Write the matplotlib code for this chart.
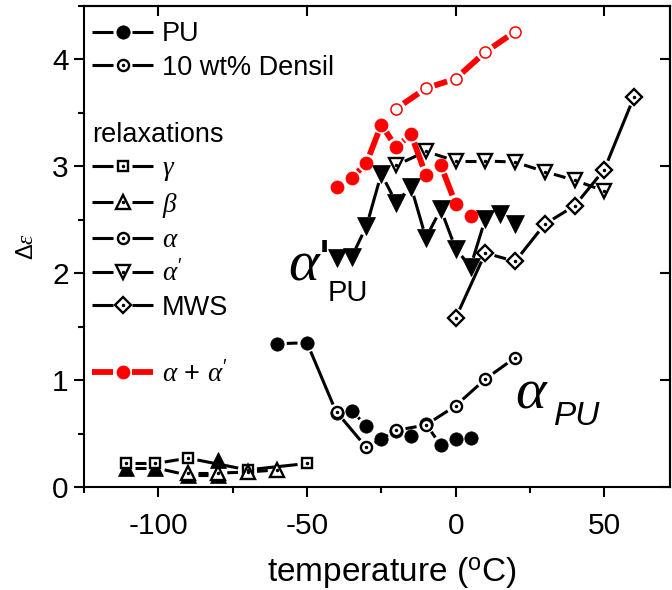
import numpy as np
import matplotlib
matplotlib.use("Agg")
import matplotlib.pyplot as plt
from matplotlib.collections import LineCollection
from matplotlib.lines import Line2D
from matplotlib.legend_handler import HandlerLine2D
from matplotlib.ticker import MultipleLocator

plt.rcParams['font.family'] = ['Liberation Sans', 'DejaVu Sans']
plt.rcParams['mathtext.fontset'] = 'custom'
plt.rcParams['mathtext.rm'] = 'Liberation Sans'
plt.rcParams['mathtext.it'] = 'Liberation Serif:italic'
plt.rcParams['mathtext.bf'] = 'Liberation Sans:bold'
plt.rcParams['axes.unicode_minus'] = False

# ---- relaxation strengths vs temperature ----
# neat PU
pu_alpha_T = [-60, -50, -40, -35, -30, -25, -20, -15, -10, -5, 0, 5]
pu_alpha_eps = [1.34, 1.35, 0.69, 0.715, 0.57, 0.45, 0.52, 0.48, 0.59, 0.39, 0.45, 0.46]
pu_alphap_T = [-40, -35, -30, -25, -20, -15, -10, -5, 0, 5, 10, 15, 20]
pu_alphap_eps = [2.14, 2.15, 2.44, 2.93, 2.66, 2.81, 2.33, 2.60, 2.23, 2.06, 2.51, 2.55, 2.46]
pu_beta_T = [-111, -101, -90, -80, -80]
pu_beta_eps = [0.18, 0.18, 0.11, 0.11, 0.25]
pu_sum_T = [-40, -35, -30, -25, -20, -15, -10, -5, 0, 5]
pu_sum_eps = [2.81, 2.89, 3.03, 3.39, 3.18, 3.30, 2.92, 3.01, 2.65, 2.54]

# PU + 10 wt% Densil
de_gamma_T = [-111, -101, -90, -70, -50]
de_gamma_eps = [0.22, 0.22, 0.27, 0.16, 0.22]
de_beta_T = [-90, -80, -70, -60]
de_beta_eps = [0.13, 0.13, 0.14, 0.16]
de_alpha_T = [-40, -30, -20, -10, 0, 10, 20]
de_alpha_eps = [0.70, 0.37, 0.53, 0.58, 0.76, 1.01, 1.21]
de_alphap_T = [-20, -10, 0, 10, 20, 30, 40, 50]
de_alphap_eps = [3.01, 3.14, 3.05, 3.05, 3.04, 2.95, 2.87, 2.77]
de_mws_T = [0, 10, 20, 30, 40, 50, 60]
de_mws_eps = [1.58, 2.19, 2.11, 2.46, 2.63, 2.97, 3.65]
de_sum_T = [-20, -10, 0, 10, 20]
de_sum_eps = [3.54, 3.73, 3.82, 4.07, 4.26]

x_ticks = [-100, -50, 0, 50]
y_ticks = [0, 1, 2, 3, 4]

RED = '#ff0000'
DPI = 100
GAP_PX = 9.5          # gap left between a connecting line and its symbols

fig = plt.figure(figsize=(6.72, 5.90), dpi=DPI)
ax = fig.add_axes([84 / 672, 1 - 487 / 590, 585.7 / 672, 481 / 590])
ax.set_xlim(-125, 72)
ax.set_ylim(0, 4.5)


def gapped_segments(x, y, gap_px):
    """Connecting segments between consecutive points, trimmed near the symbols."""
    pts = ax.transData.transform(np.column_stack([x, y]))
    inv = ax.transData.inverted()
    segs = []
    for p0, p1 in zip(pts[:-1], pts[1:]):
        d = p1 - p0
        L = np.hypot(*d)
        if L <= 2 * gap_px + 1:
            continue
        u = d / L
        segs.append(inv.transform([p0 + u * gap_px, p1 - u * gap_px]))
    return segs


def series(x, y, style, lw, color, gap=GAP_PX, dot=False, z=3):
    lc = LineCollection(gapped_segments(x, y, gap), colors=color,
                        linewidths=lw, capstyle='butt', zorder=z)
    ax.add_collection(lc)
    ax.plot(x, y, linestyle='None', zorder=z + 0.5, **style)
    if dot:
        ax.plot(x, y, linestyle='None', marker='o', ms=1.5, color='black',
                zorder=z + 0.6)


BLK_LW = 2.2
RED_LW = 4.2
filled_circle = dict(marker='o', ms=9.6, mfc='black', mec='black', mew=0.5)
open_circle = dict(marker='o', ms=8.0, mfc='white', mec='black', mew=1.7)
filled_tri_dn = dict(marker='v', ms=12.5, mfc='black', mec='black', mew=0.5)
open_tri_dn = dict(marker='v', ms=10.5, mfc='white', mec='black', mew=1.7)
filled_tri_up = dict(marker='^', ms=11.0, mfc='black', mec='black', mew=0.5)
open_tri_up = dict(marker='^', ms=9.5, mfc='white', mec='black', mew=1.7)
open_square = dict(marker='s', ms=6.6, mfc='white', mec='black', mew=1.7)
open_diamond = dict(marker='D', ms=8.6, mfc='white', mec='black', mew=1.7)
red_filled = dict(marker='o', ms=9.4, mfc=RED, mec=RED, mew=0.5)
red_open = dict(marker='o', ms=8.0, mfc='white', mec=RED, mew=1.1)

series(pu_beta_T, pu_beta_eps, filled_tri_up, BLK_LW, 'black')
series(de_gamma_T, de_gamma_eps, open_square, BLK_LW, 'black', dot=True)
series(de_beta_T, de_beta_eps, open_tri_up, BLK_LW, 'black', dot=True)
series(pu_alpha_T, pu_alpha_eps, filled_circle, BLK_LW, 'black')
series(de_alpha_T, de_alpha_eps, open_circle, BLK_LW, 'black', dot=True)
series(de_mws_T, de_mws_eps, open_diamond, BLK_LW, 'black', dot=True)
series(pu_alphap_T, pu_alphap_eps, filled_tri_dn, BLK_LW, 'black')
series(de_alphap_T, de_alphap_eps, open_tri_dn, BLK_LW, 'black', dot=True)
series(pu_sum_T, pu_sum_eps, red_filled, RED_LW, RED, gap=9.0, z=5)
series(de_sum_T, de_sum_eps, red_open, RED_LW, RED, gap=9.0, z=5)

# ---- axes styling ----
FS = 19.5
TICK_FS = 21.5
for s in ax.spines.values():
    s.set_linewidth(1.5)
ax.set_xticks(x_ticks)
ax.set_yticks(y_ticks)
ax.xaxis.set_minor_locator(MultipleLocator(25))
ax.yaxis.set_minor_locator(MultipleLocator(0.5))
ax.tick_params(which='major', direction='out', length=7, width=1.5,
               labelsize=TICK_FS, top=False, right=False)
ax.tick_params(which='minor', direction='out', length=4, width=1.5,
               top=False, right=False)
ax.tick_params(axis='x', which='major', pad=11)
ax.tick_params(axis='y', which='major', pad=4)

top = ax.secondary_xaxis('top')
top.set_xticks(x_ticks)
top.tick_params(direction='in', length=7, width=1.5, labeltop=False)
top.spines['top'].set_linewidth(1.5)
right = ax.secondary_yaxis('right')
right.set_yticks(y_ticks)
right.tick_params(direction='in', length=7, width=1.5, labelright=False)
right.spines['right'].set_linewidth(1.5)

ax.set_xlabel(r'temperature ($^{\mathrm{o}}$C)', fontsize=24)
ax.xaxis.set_label_coords(0.526, -0.143)
ax.set_ylabel(r'$\Delta\varepsilon$', fontsize=17, labelpad=10)

# ---- annotations ----
ax.text(-56.5, 1.94, r"$\alpha$'", fontsize=42, va='baseline', ha='left')
ax.text(-43, 1.74, 'PU', fontsize=21, va='baseline', ha='left')
ax.text(20, 0.74, r"$\alpha$", fontsize=42, va='baseline', ha='left')
ax.text(33, 0.58, 'PU', fontsize=24, style='italic', va='baseline', ha='left')


# ---- legend ----
class GapLineHandler(HandlerLine2D):
    def __init__(self, gap_pt, **kw):
        super().__init__(**kw)
        self.gap_pt = gap_pt

    def create_artists(self, legend, orig_handle, xdescent, ydescent,
                       width, height, fontsize, trans):
        x0 = -xdescent
        x1 = -xdescent + width
        xm = 0.5 * (x0 + x1)
        y = (height - ydescent) / 2
        g = self.gap_pt
        arts = []
        for xs in ([x0, xm - g], [xm + g, x1]):
            seg = Line2D(xs, [y, y])
            self.update_prop(seg, orig_handle, legend)
            seg.set_marker('None')
            seg.set_solid_capstyle('butt')
            seg.set_transform(trans)
            arts.append(seg)
        mk = Line2D([xm], [y])
        self.update_prop(mk, orig_handle, legend)
        mk.set_linestyle('None')
        mk.set_transform(trans)
        arts.append(mk)
        if getattr(orig_handle, 'center_dot', False):
            dot = Line2D([xm], [y], linestyle='None', marker='o', ms=1.5,
                         color='black')
            dot.set_transform(trans)
            arts.append(dot)
        return arts


def proxy(style, lw, color, dot=False):
    h = Line2D([], [], color=color, lw=lw, **style)
    h.center_dot = dot
    return h


blank = Line2D([], [], linestyle='None', marker='None')
blank.center_dot = False

hmap = {Line2D: GapLineHandler(GAP_PX * 72 / DPI)}
leg_kw = dict(frameon=False, fontsize=FS, handlelength=2.25,
              handletextpad=0.33, labelspacing=0.275, borderpad=0.0,
              borderaxespad=0.0, handler_map=hmap)

leg1 = ax.legend([proxy(filled_circle, BLK_LW, 'black'),
                  proxy(open_circle, BLK_LW, 'black', True)],
                 ['PU', '10 wt% Densil'], loc='upper left',
                 bbox_to_anchor=(0.014, 0.968), **leg_kw)
ax.add_artist(leg1)

leg2 = ax.legend([proxy(open_square, BLK_LW, 'black', True),
                  proxy(open_tri_up, BLK_LW, 'black', True),
                  proxy(open_circle, BLK_LW, 'black', True),
                  proxy(open_tri_dn, BLK_LW, 'black', True),
                  proxy(open_diamond, BLK_LW, 'black', True),
                  blank,
                  proxy(red_filled, RED_LW, RED)],
                 [r'$\gamma$', r'$\beta$', r'$\alpha$', r"$\alpha'$", 'MWS', ' ',
                  r"$\alpha$ + $\alpha'$"],
                 title='relaxations', title_fontsize=FS, alignment='left',
                 loc='upper left', bbox_to_anchor=(0.014, 0.759), **leg_kw)

fig.savefig('out.png', dpi=DPI)
